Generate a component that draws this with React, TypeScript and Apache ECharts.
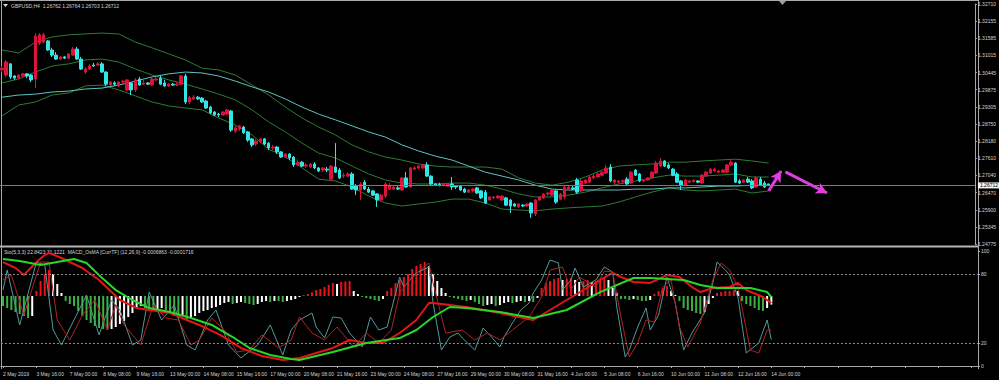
import React, { useEffect, useRef } from 'react';
import * as echarts from 'echarts';

// ---------- DATA (H4 bars, index 0 = 2 May 2019 08:00) ----------
const open = [
  1.3053,1.3036,1.3073,1.3033,1.3026,1.3033,1.3040,1.3036,1.3023,1.3142,
  1.3145,1.3149,1.3119,1.3102,1.3089,1.3096,1.3092,1.3102,1.3122,1.3089,
  1.3046,1.3056,1.3069,1.3069,1.3073,1.3046,1.3003,1.3010,1.3000,1.3013,
  1.2987,1.3010,1.2987,1.3023,1.3006,1.3010,1.3003,1.3020,1.3026,1.3010,
  1.3000,1.3006,1.3003,1.3006,1.3033,1.2947,1.2957,1.2963,1.2960,1.2950,
  1.2930,1.2914,1.2907,1.2904,1.2907,1.2917,1.2851,1.2858,1.2864,1.2848,
  1.2825,1.2808,1.2815,1.2825,1.2811,1.2795,1.2798,1.2782,1.2765,1.2775,
  1.2765,1.2739,1.2748,1.2735,1.2732,1.2742,1.2729,1.2722,1.2725,1.2692,
  1.2732,1.2722,1.2702,1.2702,1.2709,1.2669,1.2656,1.2682,1.2659,1.2653,
  1.2643,1.2623,1.2636,1.2659,1.2659,1.2663,1.2656,1.2696,1.2666,1.2725,
  1.2729,1.2729,1.2739,1.2702,1.2676,1.2675,1.2672,1.2669,1.2676,1.2669,
  1.2669,1.2659,1.2649,1.2653,1.2663,1.2653,1.2649,1.2623,1.2630,1.2630,
  1.2623,1.2630,1.2623,1.2610,1.2600,1.2606,1.2603,1.2613,1.2577,1.2623,
  1.2630,1.2643,1.2639,1.2653,1.2626,1.2633,1.2659,1.2663,1.2689,1.2653,
  1.2679,1.2682,1.2696,1.2699,1.2705,1.2712,1.2732,1.2682,1.2682,1.2683,
  1.2692,1.2679,1.2722,1.2709,1.2686,1.2689,1.2696,1.2712,1.2735,1.2752,
  1.2739,1.2725,1.2709,1.2686,1.2672,1.2682,1.2684,1.2686,1.2679,1.2702,
  1.2712,1.2719,1.2715,1.2715,1.2715,1.2739,1.2745,1.2686,1.2682,1.2692,
  1.2686,1.2666,1.2692,1.2679,1.26762
];
const close = [
  1.3059,1.3079,1.3030,1.3026,1.3036,1.3040,1.3033,1.3020,1.3165,1.3169,
  1.3169,1.3119,1.3102,1.3089,1.3096,1.3092,1.3106,1.3122,1.3089,1.3056,
  1.3056,1.3066,1.3066,1.3073,1.3046,1.3006,1.3013,1.3006,1.3013,1.3016,
  1.3020,1.2987,1.3020,1.3003,1.3010,1.3006,1.3023,1.3023,1.3006,1.3000,
  1.3006,1.3003,1.3006,1.3033,1.2947,1.2963,1.2963,1.2957,1.2947,1.2927,
  1.2911,1.2904,1.2904,1.2914,1.2921,1.2854,1.2861,1.2868,1.2845,1.2821,
  1.2805,1.2818,1.2825,1.2808,1.2795,1.2798,1.2782,1.2765,1.2775,1.2762,
  1.2739,1.2748,1.2735,1.2739,1.2742,1.2729,1.2719,1.2729,1.2722,1.2735,
  1.2715,1.2696,1.2705,1.2709,1.2659,1.2656,1.2676,1.2659,1.2649,1.2639,
  1.2623,1.2639,1.2676,1.2672,1.2666,1.2659,1.2696,1.2666,1.2729,1.2729,
  1.2735,1.2739,1.2702,1.2676,1.2672,1.2671,1.2676,1.2676,1.2666,1.2666,
  1.2656,1.2649,1.2656,1.2659,1.2646,1.2630,1.2613,1.2633,1.2633,1.2636,
  1.2636,1.2606,1.2603,1.2603,1.2610,1.2603,1.2610,1.2580,1.2623,1.2633,
  1.2643,1.2646,1.2656,1.2616,1.2643,1.2666,1.2666,1.2659,1.2649,1.2686,
  1.2689,1.2699,1.2702,1.2709,1.2715,1.2729,1.2686,1.2689,1.2686,1.2687,
  1.2676,1.2715,1.2705,1.2686,1.2689,1.2696,1.2715,1.2745,1.2752,1.2735,
  1.2729,1.2705,1.2682,1.2672,1.2689,1.2686,1.2688,1.2682,1.2705,1.2715,
  1.2725,1.2725,1.2719,1.2722,1.2739,1.2748,1.2682,1.2679,1.2689,1.2682,
  1.2663,1.2696,1.2672,1.2666,1.26712
];
const high = [
  1.3066,1.3086,1.3076,1.3036,1.3040,1.3043,1.3043,1.3040,1.3175,1.3175,
  1.3175,1.3152,1.3126,1.3112,1.3099,1.3099,1.3109,1.3129,1.3129,1.3096,
  1.3063,1.3073,1.3076,1.3079,1.3079,1.3049,1.3016,1.3016,1.3016,1.3020,
  1.3023,1.3013,1.3026,1.3030,1.3020,1.3013,1.3026,1.3030,1.3036,1.3020,
  1.3010,1.3010,1.3013,1.3036,1.3040,1.2967,1.2970,1.2967,1.2963,1.2954,
  1.2934,1.2917,1.2911,1.2917,1.2924,1.2921,1.2868,1.2871,1.2868,1.2851,
  1.2828,1.2825,1.2828,1.2828,1.2815,1.2805,1.2801,1.2785,1.2778,1.2778,
  1.2768,1.2755,1.2752,1.2745,1.2745,1.2748,1.2732,1.2732,1.2732,1.2739,
  1.2811,1.2729,1.2712,1.2715,1.2715,1.2676,1.2682,1.2689,1.2666,1.2656,
  1.2646,1.2643,1.2682,1.2679,1.2669,1.2669,1.2699,1.2715,1.2732,1.2735,
  1.2739,1.2742,1.2748,1.2705,1.2679,1.2680,1.2679,1.2679,1.2699,1.2672,
  1.2672,1.2663,1.2659,1.2663,1.2666,1.2656,1.2656,1.2636,1.2636,1.2639,
  1.2639,1.2633,1.2626,1.2613,1.2613,1.2610,1.2613,1.2616,1.2626,1.2636,
  1.2646,1.2649,1.2659,1.2656,1.2646,1.2669,1.2669,1.2669,1.2696,1.2692,
  1.2692,1.2702,1.2709,1.2715,1.2719,1.2739,1.2742,1.2692,1.2689,1.2690,
  1.2699,1.2719,1.2725,1.2712,1.2692,1.2699,1.2719,1.2752,1.2762,1.2755,
  1.2745,1.2729,1.2715,1.2689,1.2692,1.2689,1.2691,1.2689,1.2709,1.2719,
  1.2729,1.2729,1.2722,1.2725,1.2742,1.2755,1.2748,1.2692,1.2692,1.2699,
  1.2692,1.2702,1.2699,1.2686,1.26764
];
const low = [
  1.3046,1.3030,1.3023,1.3020,1.3023,1.3030,1.3026,1.3013,1.2993,1.3135,
  1.3142,1.3116,1.3096,1.3086,1.3086,1.3089,1.3089,1.3099,1.3086,1.3053,
  1.3040,1.3053,1.3063,1.3066,1.3043,1.3000,1.3000,1.3000,1.2997,1.3010,
  1.2983,1.2970,1.2980,1.3000,1.3003,1.3003,1.3000,1.3016,1.3003,1.2997,
  1.2997,1.3000,1.3000,1.3003,1.2940,1.2940,1.2954,1.2954,1.2944,1.2924,
  1.2907,1.2901,1.2897,1.2901,1.2904,1.2848,1.2845,1.2851,1.2841,1.2815,
  1.2798,1.2801,1.2811,1.2805,1.2788,1.2788,1.2775,1.2762,1.2762,1.2755,
  1.2732,1.2735,1.2732,1.2729,1.2729,1.2725,1.2715,1.2715,1.2715,1.2686,
  1.2712,1.2692,1.2696,1.2699,1.2656,1.2639,1.2623,1.2656,1.2646,1.2636,
  1.2600,1.2620,1.2630,1.2656,1.2656,1.2656,1.2653,1.2663,1.2663,1.2722,
  1.2725,1.2725,1.2699,1.2672,1.2669,1.2668,1.2669,1.2666,1.2656,1.2659,
  1.2653,1.2646,1.2646,1.2649,1.2643,1.2626,1.2610,1.2620,1.2626,1.2626,
  1.2620,1.2603,1.2580,1.2600,1.2597,1.2600,1.2600,1.2564,1.2570,1.2620,
  1.2626,1.2636,1.2636,1.2610,1.2623,1.2626,1.2656,1.2656,1.2643,1.2649,
  1.2676,1.2679,1.2692,1.2696,1.2702,1.2709,1.2682,1.2676,1.2679,1.2678,
  1.2669,1.2676,1.2702,1.2682,1.2682,1.2686,1.2692,1.2709,1.2732,1.2732,
  1.2725,1.2702,1.2679,1.2656,1.2669,1.2679,1.2680,1.2679,1.2676,1.2699,
  1.2709,1.2715,1.2712,1.2712,1.2712,1.2735,1.2679,1.2676,1.2679,1.2679,
  1.2659,1.2663,1.2669,1.2663,1.26703
];

// overlay lines, one value every 4 bars
const lineStep = 4;
const maSlow = [
  1.2963,1.2970,1.2973,1.2980,1.2983,1.2990,1.2993,1.3003,1.3016,1.3030,
  1.3040,1.3046,1.3043,1.3033,1.3016,1.2997,1.2980,1.2957,1.2930,1.2907,
  1.2888,1.2868,1.2848,1.2831,1.2805,1.2785,1.2768,1.2755,1.2735,1.2715,
  1.2702,1.2689,1.2672,1.2659,1.2656,1.2656,1.2656,1.2656,1.2659,1.2659,
  1.2663,1.2663,1.2666,1.2669,1.2669,1.2672,1.2672
];
const bbUpper = [
  1.3119,1.3109,1.3145,1.3162,1.3169,1.3172,1.3175,1.3172,1.3145,1.3126,
  1.3106,1.3086,1.3059,1.3053,1.3036,1.3003,1.2970,1.2930,1.2894,1.2864,
  1.2838,1.2805,1.2782,1.2765,1.2755,1.2742,1.2735,1.2732,1.2732,1.2732,
  1.2725,1.2696,1.2679,1.2672,1.2682,1.2699,1.2722,1.2735,1.2739,1.2742,
  1.2748,1.2748,1.2752,1.2755,1.2758,1.2752,1.2745
];
const bbMiddle = [
  1.3010,1.3023,1.3046,1.3066,1.3073,1.3086,1.3089,1.3079,1.3056,1.3036,
  1.3020,1.3006,1.2990,1.2973,1.2954,1.2921,1.2881,1.2848,1.2811,1.2778,
  1.2762,1.2735,1.2709,1.2689,1.2679,1.2676,1.2676,1.2679,1.2679,1.2672,
  1.2659,1.2643,1.2633,1.2633,1.2639,1.2649,1.2663,1.2676,1.2686,1.2696,
  1.2705,1.2702,1.2702,1.2705,1.2709,1.2699,1.2699
];
const bbLower = [
  1.2901,1.2937,1.2947,1.2970,1.2977,1.3000,1.3003,1.2987,1.2967,1.2947,
  1.2934,1.2927,1.2921,1.2894,1.2871,1.2838,1.2791,1.2765,1.2729,1.2692,
  1.2686,1.2666,1.2636,1.2613,1.2603,1.2610,1.2616,1.2626,1.2626,1.2613,
  1.2593,1.2590,1.2587,1.2593,1.2597,1.2600,1.2603,1.2616,1.2633,1.2649,
  1.2663,1.2656,1.2653,1.2656,1.2659,1.2646,1.2653
];

// MACD OsMA histogram, values x 1e-4
const osmaE4 = [
  -2.0,-2.4,-2.8,-3.2,-3.6,-4.0,-4.4,-4.0,1.0,3.0,
  4.4,5.2,4.4,2.4,0.6,-1.0,-1.6,-2.0,-3.0,-4.0,
  -4.8,-5.4,-6.0,-6.4,-6.6,-6.8,-6.6,-6.2,-5.6,-5.0,
  -4.2,-3.4,-2.4,-2.0,-2.4,-2.8,-3.0,-2.6,-2.4,-2.8,
  -3.4,-4.0,-4.4,-4.0,-4.8,-4.4,-4.0,-3.4,-3.0,-2.8,
  -2.4,-2.2,-1.8,-1.4,-1.2,-1.6,-1.4,-1.2,-1.4,-1.6,
  -1.8,-1.6,-1.2,-1.0,-1.2,-1.0,-1.0,-1.2,-1.0,-0.8,
  -0.6,-0.2,0.2,0.4,0.7,1.2,1.4,1.8,2.2,2.6,
  2.4,2.8,2.9,3.0,1.0,0.4,-0.2,-0.4,-0.6,-0.8,
  -1.0,-0.6,1.0,1.6,2.6,3.2,3.8,4.4,5.4,6.0,
  6.4,6.8,6.0,4.4,3.0,1.6,0.6,-0.2,-0.4,-0.6,
  -0.8,-1.0,-0.8,-1.2,-1.6,-2.0,-1.8,-1.6,-2.0,-1.8,
  -1.4,-1.2,-1.4,-1.2,-1.0,-1.2,-1.0,-1.2,-0.4,1.6,
  2.6,3.0,3.4,3.6,3.2,3.4,3.6,3.2,2.8,3.0,
  3.2,2.8,3.0,3.4,3.6,3.2,1.6,0.6,-0.6,-0.6,
  -0.8,-0.6,-0.8,-1.0,-1.0,-0.8,0.4,1.0,1.6,2.0,
  1.0,0.2,-1.0,-2.4,-2.8,-3.0,-3.4,-3.6,-3.2,-1.6,
  -0.4,0.6,0.8,1.0,1.0,1.2,1.0,-1.0,-1.6,-2.0,
  -2.4,-2.8,-3.0,-2.4,-1.716
];

// [bar index, value]
const stochMain = [[0,66.1],[1,83.5],[4,35.7],[8,90.4],[10,87.8],[12,31.3],[14,18.3],[17,40],[20,61.7],[23,27],[26,57.4],[28,48.7],[31,18.3],[33,22.6],[35,64.3],[38,40],[41,53],[44,18.3],[46,13.9],[49,40],[51,48.7],[54,18.3],[57,7],[61,18.3],[64,35.7],[67,9.6],[69,31.3],[71,40],[74,46.1],[75,33.9],[77,24.3],[79,42.6],[81,41.7],[83,28.7],[86,16.5],[88,42.6],[90,31.3],[92,33.9],[95,77.4],[96,68.7],[99,80.9],[102,86.1],[103,54.8],[105,13.9],[107,25.2],[109,28.7],[110,24.3],[113,13.9],[115,33],[117,25.2],[119,16.5],[120,25.2],[122,37.4],[124,48.7],[126,54.8],[127,63.5],[129,74.8],[131,92.2],[133,89.6],[134,66.1],[136,74.8],[137,85.2],[139,68.7],[142,74.8],[144,86.1],[146,81.7],[147,51.3],[149,7.8],[150,13.9],[152,33.9],[154,50.4],[155,31.3],[157,44.3],[159,77.4],[161,54.8],[163,13.9],[165,28.7],[168,46.1],[170,72.2],[171,90.4],[173,83.5],[174,79.1],[176,60],[178,11.3],[181,20],[183,40],[184,22.84]];
const stochSignal = [[0,74.8],[2,79.1],[5,44.3],[9,90.4],[11,90.4],[13,40],[16,22.6],[19,44.3],[22,57.4],[25,31.3],[27,53],[29,35.7],[33,18.3],[36,53],[39,41.7],[42,40],[45,18.3],[47,22.6],[50,41.7],[53,31.3],[56,12.2],[59,13.9],[62,27],[66,15.7],[69,22.6],[71,42.6],[74,28.7],[77,22.6],[80,33.9],[84,16.5],[87,28.7],[90,20],[93,31.3],[95,63.5],[98,77.4],[102,89.6],[103,72.2],[106,28.7],[110,31.3],[113,22.6],[116,28.7],[119,22.6],[122,31.3],[126,42.6],[129,60],[131,83.5],[134,86.1],[136,66.1],[138,77.4],[142,68.7],[144,82.6],[146,81.7],[148,42.6],[150,7.8],[152,20],[154,40],[156,38.3],[158,68.7],[160,74.8],[162,33.9],[164,16.5],[167,37.4],[170,74.8],[172,89.6],[174,83.5],[176,68.7],[179,13.9],[181,11.3],[183,31.3],[184,31.12]];
const redLine = [[0,90.4],[3,85.2],[5,79.1],[8,90.4],[10,96.5],[11,98.3],[14,93.9],[19,85.2],[23,74.8],[28,57.4],[32,50.4],[35,48.7],[40,46.1],[44,40],[47,35.7],[52,27],[57,15.7],[62,8.7],[67,5.2],[71,7],[79,15.7],[83,22.6],[87,20],[91,20],[95,28.7],[99,40],[102,54.8],[103,54.8],[111,51.3],[119,46.1],[127,40],[131,48.7],[135,57.4],[139,66.1],[143,74.8],[146,80.9],[148,77.4],[151,73],[155,72.2],[159,79.1],[162,77.4],[165,68.7],[167,64.3],[170,67.8],[174,68.7],[176,72.2],[178,66.1],[182,60],[184,54.8]];
const greenLine = [[0,93],[4,91.3],[9,87.8],[13,90.4],[17,93],[20,89.6],[23,79],[27,66],[31,57.4],[35,50.4],[40,47],[45,41.7],[50,35.7],[55,25.2],[59,15.7],[64,9.6],[69,6.1],[71,5.2],[79,12.2],[87,20],[95,24.3],[99,31.3],[103,42.6],[107,51.3],[111,50.4],[119,47],[127,41.7],[135,48.7],[143,64.3],[151,76.5],[155,76.5],[163,74.8],[167,70.4],[171,67.8],[179,67.8],[183,64.3],[184,60]];

const tickLabels = ['2 May 2019','3 May 16:00','7 May 00:00','8 May 08:00','9 May 16:00','13 May 00:00','14 May 08:00','15 May 16:00','17 May 00:00','20 May 08:00','21 May 16:00','23 May 00:00','24 May 08:00','27 May 16:00','29 May 00:00','30 May 08:00','31 May 16:00','4 Jun 00:00','5 Jun 08:00','6 Jun 16:00','10 Jun 00:00','11 Jun 08:00','12 Jun 16:00','14 Jun 00:00'];
const priceTicks = [1.32710,1.32155,1.31585,1.31015,1.30445,1.29875,1.29305,1.28750,1.28180,1.27610,1.27040,1.26470,1.25900,1.25345,1.24775];
const stochTicks = [0, 20, 80, 100];
const lastPrice = 1.26712;
const arrowPath = [[184, 1.2653], [187, 1.2719], [188, 1.2716], [198, 1.2646]];

const SLOTS = 234;
const FONT = 'Liberation Sans';
const TXT = '#d4d4d4';
const FRAME = '#a8a8a8';

export default function App() {
  const ref = useRef<HTMLDivElement>(null);
  useEffect(() => {
    document.body.style.margin = '0';
    document.body.style.background = '#000';
    const chart = echarts.init(ref.current!, null, { renderer: 'svg' });
    const cats = Array.from({ length: SLOTS }, (_, i) => String(i));
    const candles = open.map((o, i) => [o, close[i], low[i], high[i]]);
    const step = (arr: number[]) => arr.map((v, k) => [k * lineStep, v]);
    const osmaData = osmaE4.map((v, i) => {
      const prev = i > 0 ? osmaE4[i - 1] : v;
      let c = '#ffffff';
      if (v >= 0 && v >= prev) c = '#e8141c';
      else if (v < 0 && v <= prev) c = '#3cb043';
      return { value: v, itemStyle: { color: c } };
    });
    const thin = (data: any, color: string, extra: any = {}) => ({
      type: 'line', xAxisIndex: 1, yAxisIndex: 1, data, showSymbol: false, symbol: 'none',
      lineStyle: { color, width: 1 }, silent: true, z: 3, ...extra,
    });
    const ov = (data: any, color: string, extra: any = {}) => ({
      type: 'line', xAxisIndex: 0, yAxisIndex: 0, data, showSymbol: false, symbol: 'none',
      lineStyle: { color, width: 1 }, silent: true, z: 1, ...extra,
    });
    const option: any = {
      animation: false,
      backgroundColor: '#000',
      grid: [
        { left: 0, right: 21, top: 4, height: 240 },
        { left: 0, right: 21, top: 251, height: 115 },
      ],
      xAxis: [
        { type: 'category', gridIndex: 0, data: cats, boundaryGap: true, show: false },
        {
          type: 'category', gridIndex: 1, data: cats, boundaryGap: true, offset: 3,
          axisLine: { show: true, lineStyle: { color: FRAME } },
          axisTick: { show: true, interval: 7, alignWithLabel: true, length: 2, lineStyle: { color: FRAME } },
          axisLabel: {
            interval: 7, align: 'left', margin: 2, fontSize: 5, fontFamily: FONT, color: TXT,
            formatter: (_v: string, idx: number) => (idx % 8 === 0 && tickLabels[idx / 8]) || '',
          },
          splitLine: { show: false },
        },
      ],
      yAxis: [
        {
          type: 'value', gridIndex: 0, position: 'right', min: 1.24775, max: 1.32710,
          axisLine: { show: true, lineStyle: { color: FRAME } },
          axisTick: { show: true, length: 2, customValues: priceTicks, lineStyle: { color: FRAME } },
          axisLabel: { customValues: priceTicks, formatter: (v: number) => v.toFixed(5), fontSize: 5, fontFamily: FONT, color: TXT, margin: 3 },
          splitLine: { show: false },
        },
        {
          type: 'value', gridIndex: 1, position: 'right', min: 0, max: 100,
          axisLine: { show: true, lineStyle: { color: FRAME } },
          axisTick: { show: true, length: 2, customValues: stochTicks, lineStyle: { color: FRAME } },
          axisLabel: { customValues: stochTicks, formatter: (v: number) => String(v), fontSize: 5, fontFamily: FONT, color: TXT, margin: 3 },
          splitLine: { show: false },
        },
        { type: 'value', gridIndex: 1, min: -14, max: 9, show: false, splitLine: { show: false } },
      ],
      series: [
        ov(step(bbUpper), '#2f7a34'),
        ov(step(bbMiddle), '#2f7a34', {
          markLine: {
            silent: true, symbol: ['none', 'none'], precision: 6,
            lineStyle: { color: '#7a7a7a', width: 1, type: 'solid' },
            label: { show: true, position: 'end', formatter: lastPrice.toFixed(5), color: '#000', backgroundColor: '#f2f2f2', fontSize: 5, fontFamily: FONT, padding: [1, 2, 0, 2], distance: 3 },
            data: [{ yAxis: lastPrice }],
          },
        }),
        ov(step(bbLower), '#2f7a34'),
        ov(step(maSlow), '#5ec2c2', {
          markLine: {
            silent: true, symbol: ['none', 'arrow'], symbolSize: [9, 11], precision: 6,
            label: { show: false },
            lineStyle: { color: '#e03ee0', width: 3, type: 'solid' },
            data: [
              [{ coord: arrowPath[0] }, { coord: arrowPath[1] }],
              [{ coord: arrowPath[2] }, { coord: arrowPath[3] }],
            ],
          },
        }),
        {
          type: 'candlestick', xAxisIndex: 0, yAxisIndex: 0, data: candles, barWidth: 3, z: 2, silent: true,
          itemStyle: { color: '#dc143c', color0: '#33e6e6', borderColor: '#dc143c', borderColor0: '#33e6e6', borderWidth: 1 },
        },
        {
          type: 'bar', xAxisIndex: 1, yAxisIndex: 2, data: osmaData, barWidth: 2, silent: true, z: 1,
        },
        thin(stochMain, '#4f9a9a', {
          markLine: {
            silent: true, symbol: ['none', 'none'], label: { show: false }, precision: 2,
            lineStyle: { color: '#8c8c8c', width: 1, type: [2, 2] },
            data: [{ yAxis: 20 }, { yAxis: 80 }],
          },
        }),
        thin(stochSignal, '#b02222'),
        thin(redLine, '#e41515', { lineStyle: { color: '#e41515', width: 2 }, z: 4 }),
        thin(greenLine, '#29d629', { lineStyle: { color: '#29d629', width: 2 }, z: 5 }),
      ],
      graphic: [
        { type: 'line', silent: true, shape: { x1: 0, y1: 0.5, x2: 979, y2: 0.5 }, style: { stroke: FRAME, lineWidth: 1 } },
        { type: 'line', silent: true, shape: { x1: 1.5, y1: 0, x2: 1.5, y2: 369 }, style: { stroke: FRAME, lineWidth: 1 } },
        { type: 'line', silent: true, shape: { x1: 0, y1: 246.5, x2: 979, y2: 246.5 }, style: { stroke: '#b4b4b4', lineWidth: 2 } },
        { type: 'line', silent: true, shape: { x1: 978.5, y1: 0, x2: 978.5, y2: 369 }, style: { stroke: FRAME, lineWidth: 1 } },
        { type: 'polygon', silent: true, shape: { points: [[3, 4], [8, 4], [5.5, 7]] }, style: { fill: '#d8d8d8' } },
        { type: 'polygon', silent: true, shape: { points: [[779, 1], [786, 1], [782.5, 5]] }, style: { fill: '#9a9a9a' } },
        { type: 'text', silent: true, x: 11, y: 3, style: { text: 'GBPUSD,H4  1.26762 1.26764 1.26703 1.26712', fill: TXT, fontSize: 5, fontFamily: FONT } },
        { type: 'text', silent: true, x: 4, y: 249.5, style: { text: 'Sto(5,3,3) 22.8423 31.1221  MACD_OsMA [CurrTF] (12,26,9) -0.0006863 -0.0001716', fill: TXT, fontSize: 5, fontFamily: FONT } },
      ],
    };
    chart.setOption(option);
    return () => chart.dispose();
  }, []);
  return <div ref={ref} style={{ position: 'fixed', left: 0, top: 0, width: 999, height: 380, background: '#000' }} />;
}
